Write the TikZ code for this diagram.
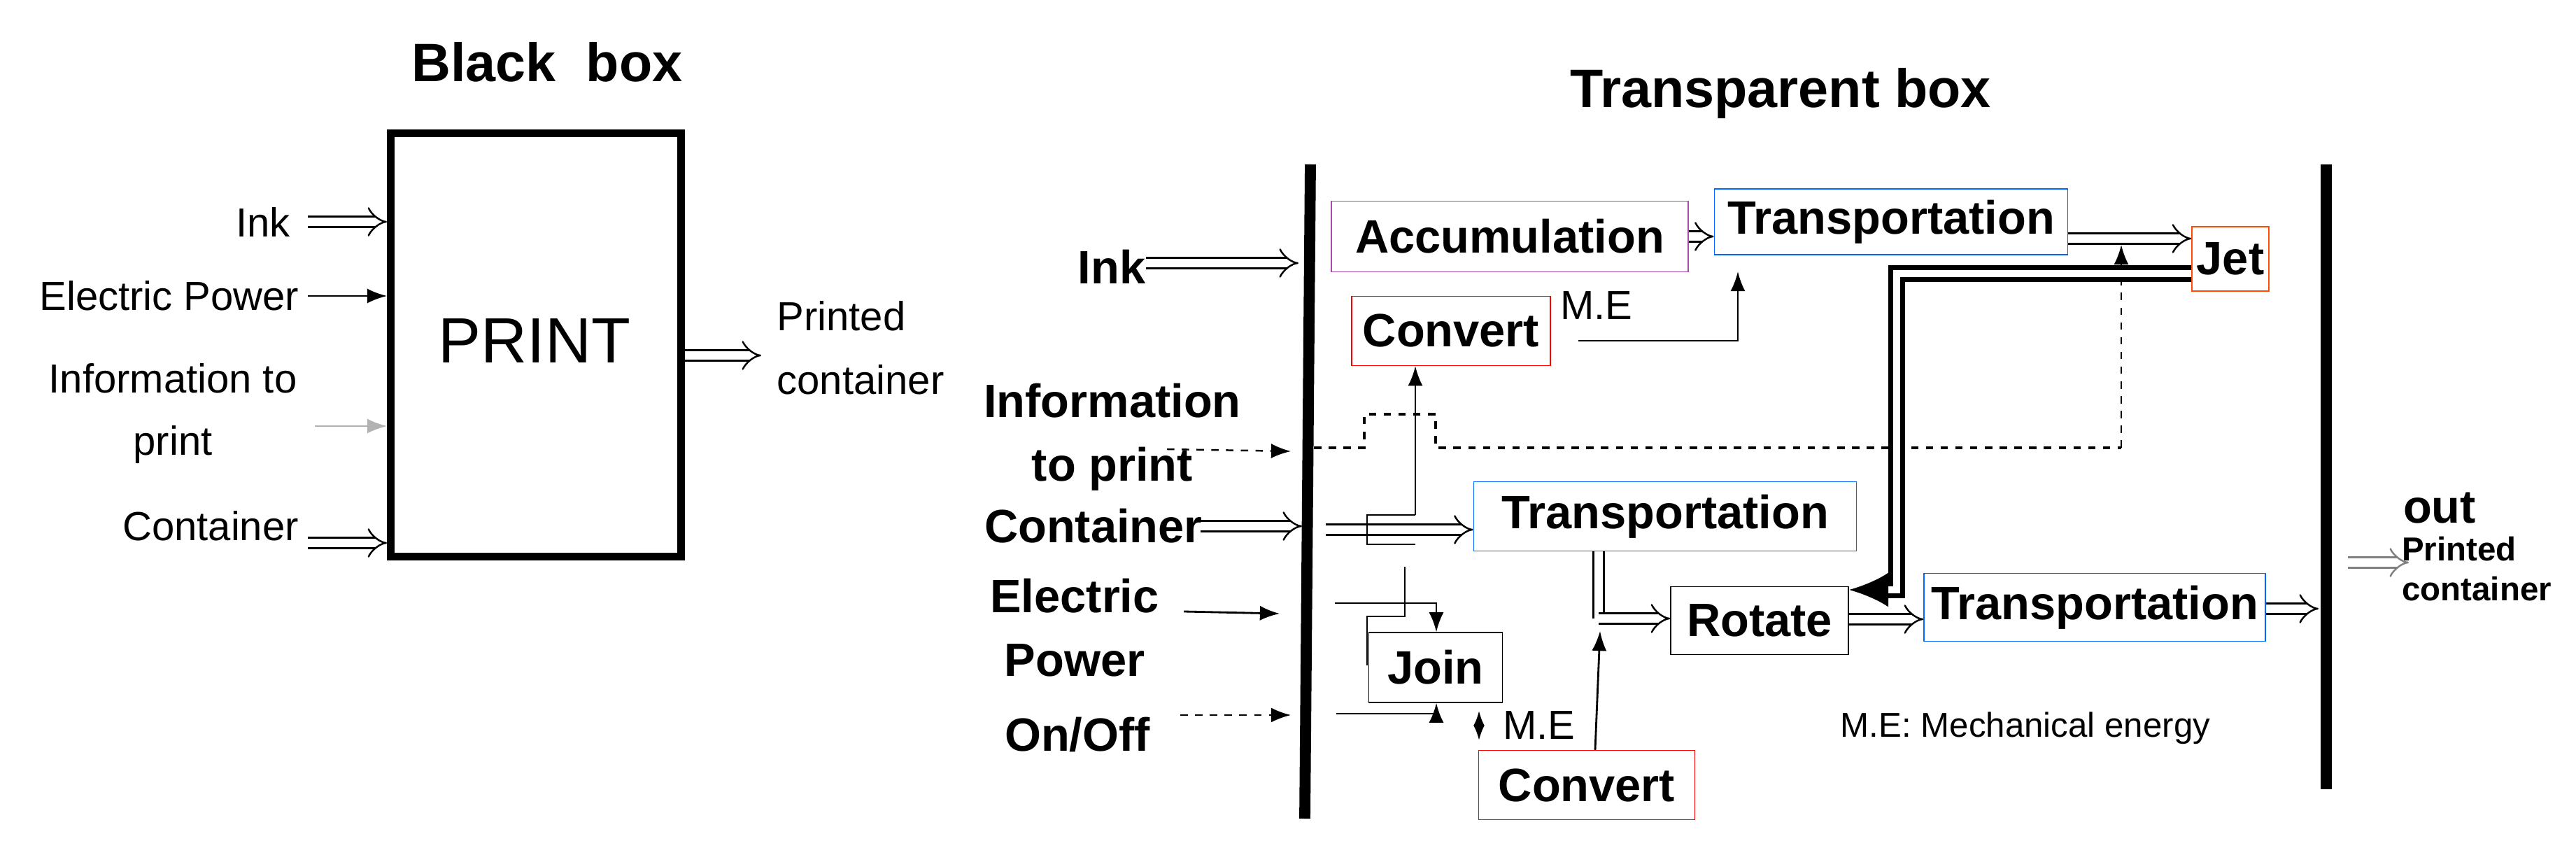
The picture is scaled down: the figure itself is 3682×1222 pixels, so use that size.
\documentclass[tikz,border=0pt]{standalone}
\usepackage{fontspec}
\setmainfont{Liberation Sans}
\usetikzlibrary{arrows.meta,calc,positioning}
\tikzset{box/.style={draw, rectangle, inner sep=0pt, font=\fontsize{19}{22}\selectfont\bfseries},
  lbl/.style={inner sep=0pt, font=\fontsize{16.5}{20}\selectfont},
  blbl/.style={inner sep=0pt, font=\fontsize{19}{22}\selectfont\bfseries},
  flow/.style={double, double distance=3.5pt, line width=0.7pt, -{Implies}},
  sig/.style={line width=0.8pt, -{Latex[length=8pt,width=6pt]}},
  dot/.style={line width=1.2pt, dash pattern=on 3pt off 3pt}}

\begin{document}
\begin{tikzpicture}[x=0.01cm,y=-0.01cm]
    \useasboundingbox (0,0) rectangle (3682,1222);
    % black box
    \node[blbl, font=\fontsize{22}{26}\selectfont\bfseries] (tBB) at (782,89) {Black\ \ box};
    \node[draw, line width=3pt, minimum width=4.15cm, minimum height=6.05cm] (print) at (766,493) {};
    \node[inner sep=0pt, font=\fontsize{26}{30}\selectfont] (printL) at (764,487) {PRINT};
    \node[lbl] (inkL) at (376,317) {Ink};
    \node[lbl] (elL) at (242,423) {Electric Power};
    \node[lbl] (infL) at (247,541) {Information to};
    \node[lbl] (infL2) at (247,635) {print};
    \node[lbl] (conL) at (301,752) {Container};
    \node[lbl, align=left] (outL) at (1230,497) {Printed\\[6pt]container};
    \draw[flow] (440,317) -- (print.west |- 0,317);
    \draw[sig] (440,423) -- (print.west |- 0,423);
    \draw[sig, gray!60] (450,609) -- (print.west |- 0,609);
    \draw[flow] (440,776) -- (print.west |- 0,776);
    \draw[flow] (print.east |- 0,508) -- (1088,508);

    % transparent box
    \node[blbl, font=\fontsize{22}{26}\selectfont\bfseries] (tTB) at (2545,134) {Transparent box};
    \draw[line width=4.5pt] (1873,235) -- (1865,1170);
    \draw[line width=4.5pt] (3325,235) -- (3325,1128);
    \node[blbl] (inkR) at (1589,381) {Ink};
    \node[blbl, align=center] (infR) at (1590,625) {Information\\[4pt]to print};
    \node[blbl] (conR) at (1563,752) {Container};
    \node[blbl, align=center] (elR) at (1536,897) {Electric\\[4pt]Power};
    \node[blbl] (onR) at (1540,1050) {On/Off};

    \node[box, draw=violet!70, minimum width=5.1cm, minimum height=1.01cm] (acc) at (2158,338) {Accumulation};
    \node[box, draw=blue!60!cyan, minimum width=5.05cm, minimum height=0.94cm] (tr1) at (2703,317) {Transportation};
    \node[box, draw=orange!60!red, minimum width=1.1cm, minimum height=0.92cm] (jet) at (3188,370) {Jet};
    \node[box, draw=red, minimum width=2.84cm, minimum height=0.99cm] (cv1) at (2074,473) {Convert};
    \node[box, draw=blue!60!cyan, minimum width=5.47cm, minimum height=0.99cm] (tr2) at (2380,738) {Transportation};
    \node[box, minimum width=2.54cm, minimum height=0.97cm] (rot) at (2515,887) {Rotate};
    \node[box, draw=blue!60!cyan, minimum width=4.88cm, minimum height=0.97cm] (tr3) at (2994,868) {Transportation};
    \node[box, minimum width=1.91cm, minimum height=1.0cm] (join) at (2052,954) {Join};
    \node[box, draw=red, minimum width=3.09cm, minimum height=0.99cm] (cv2) at (2268,1122) {Convert};
    \node[lbl] (me1) at (2282,437) {M.E};
    \node[lbl] (me2) at (2200,1037) {M.E};
    \node[lbl, font=\fontsize{14}{17}\selectfont] (meL) at (2895,1041) {M.E: Mechanical energy};
    \node[blbl] (outR) at (3487,726) {out};
    \node[inner sep=0pt, align=left, font=\fontsize{13.5}{16}\selectfont\bfseries] (pcR) at (3540,813) {Printed\\container};

    % inputs
    \draw[flow] (1638,376) -- (1856,376);
    \draw[dashed, line width=0.7pt, -{Latex[length=8pt]}] (1668,642) -- (1845,645);
    \draw[flow] (1716,752) -- (1861,752);
    \draw[sig] (1692,874) -- (1829,877);
    \draw[dashed, line width=0.7pt, -{Latex[length=8pt]}] (1687,1022) -- (1845,1022);

    % flows
    \draw[flow] (acc.east) -- (tr1.west |- acc.east);
    \draw[flow] (tr1.east |- 0,341) -- (jet.west |- 0,341);
    \draw[sig] (2256,487) -| (2484,388);
    \draw[dot] (1878,640) -- (1950,640) -- (1950,592) -- (2052,592) -- (2052,640) -- (3032,640);
    \draw[dashed, line width=0.8pt, -{Latex[length=8pt]}] (3032,640) -- (3032,350);
    \draw[flow] (1895,757) -- (tr2.west |- 0,757);
    \coordinate (br) at (2023,736);
    \draw[line width=0.8pt] (2023,778) -- (1954,778) -- (1954,736) -- (br);
    \draw[sig] (br) -- (cv1.south -| br);
    \draw[double, double distance=3.5pt, line width=0.7pt] (tr2.south -| 2285,0) -- (2285,884);
    \draw[flow] (2285,884) -- (rot.west |- 0,884);
    \draw[sig] (cv2.north -| 2280,0) -- (2287,902);
    \draw[flow] (rot.east |- 0,885) -- (tr3.west |- 0,885);
    \draw[flow] (tr3.east |- 0,870) -- (3314,870);
    \draw[double, double distance=3pt, line width=1.8pt, -{Latex[length=16pt,width=14pt]}] (jet.west |- 0,391) -- (2711,391) -- (2711,843) -- (rot.east |- 0,843);
    \draw[flow, gray] (3356,804) -- (3443,804);
    % join wiring
    \draw[sig] (1908,862) -- (2053,862) -- (join.north -| 2053,0);
    \draw[line width=0.8pt] (2008,810) -- (2008,881) -- (1954,881) -- (1954,951);
    \draw[sig] (1910,1020) -- (2053,1020) -- (join.south -| 2053,0);
    \draw[line width=0.8pt, {Latex[length=6pt]}-{Latex[length=6pt]}] (2114,1016) -- (2114,1058);
\end{tikzpicture}
\end{document}
